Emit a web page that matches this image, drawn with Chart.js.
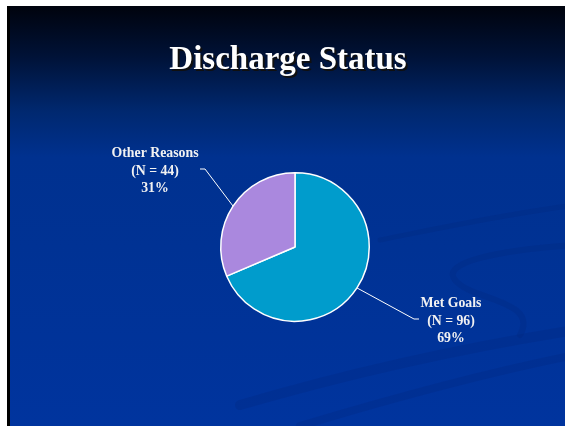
<!DOCTYPE html>
<html>
<head>
<meta charset="utf-8">
<script src="https://cdn.jsdelivr.net/npm/chart.js@4"></script>
<style>
  html, body { margin: 0; padding: 0; background: #fff; }
  canvas { display: block; }
</style>
</head>
<body>
<canvas id="myChart" width="565" height="426"></canvas>
<script>
// data
const categories = ['Met Goals', 'Other Reasons'];
const counts = [96, 44];
const percentLabels = ['69%', '31%'];
const sliceColors = ['#009ccc', '#aa88de'];
const chartTitle = 'Discharge Status';

const serif = '"Liberation Serif", "DejaVu Serif", serif';

// slide background: white margin, black edge, dark-to-blue gradient, faint swooshes
const slideBackground = {
    id: 'slideBackground',
    beforeDraw(chart) {
        const ctx = chart.ctx;
        const w = chart.width, h = chart.height;
        ctx.save();
        ctx.fillStyle = '#ffffff';
        ctx.fillRect(0, 0, w, h);
        ctx.fillStyle = '#000000';
        ctx.fillRect(7, 6, 3, h - 6);
        const g = ctx.createLinearGradient(0, 6, 0, h);
        g.addColorStop(0, '#00030d');
        g.addColorStop(0.12, '#001237');
        g.addColorStop(0.25, '#00286f');
        g.addColorStop(0.36, '#00318f');
        g.addColorStop(1, '#00349e');
        ctx.fillStyle = g;
        ctx.fillRect(10, 6, w - 10, h - 6);

        // faint darker swooshes in lower right
        ctx.beginPath();
        ctx.rect(10, 6, w - 10, h - 6);
        ctx.clip();
        ctx.strokeStyle = 'rgba(0, 35, 120, 0.22)';
        ctx.lineCap = 'round';
        ctx.lineWidth = 10;
        ctx.beginPath();
        ctx.moveTo(240, 405);
        ctx.bezierCurveTo(360, 370, 480, 345, 575, 330);
        ctx.stroke();
        ctx.lineWidth = 8;
        ctx.beginPath();
        ctx.moveTo(300, 426);
        ctx.bezierCurveTo(420, 390, 500, 370, 575, 355);
        ctx.stroke();
        ctx.lineWidth = 6;
        ctx.beginPath();
        ctx.moveTo(575, 245);
        ctx.bezierCurveTo(500, 250, 440, 262, 455, 280);
        ctx.bezierCurveTo(470, 300, 540, 300, 520, 335);
        ctx.stroke();
        ctx.lineWidth = 5;
        ctx.beginPath();
        ctx.moveTo(380, 240);
        ctx.bezierCurveTo(440, 228, 500, 215, 575, 205);
        ctx.stroke();
        ctx.restore();
    }
};

// title with drop shadow, plus leader lines and callout labels
const slideText = {
    id: 'slideText',
    afterDraw(chart, args, opts) {
        const ctx = chart.ctx;
        ctx.save();
        ctx.textAlign = 'center';
        ctx.textBaseline = 'middle';
        ctx.font = 'bold 33px ' + serif;
        ctx.fillStyle = '#101010';
        ctx.fillText(chartTitle, 290, 62);
        ctx.fillStyle = '#ffffff';
        ctx.fillText(chartTitle, 288, 60);

        const meta = chart.getDatasetMeta(0);
        meta.data.forEach((arc, i) => {
            const p = arc.getProps(['x', 'y', 'startAngle', 'endAngle', 'outerRadius'], true);
            const mid = (p.startAngle + p.endAngle) / 2;
            const ex = p.x + Math.cos(mid) * p.outerRadius;
            const ey = p.y + Math.sin(mid) * p.outerRadius;
            const pos = opts.callouts[i];
            ctx.strokeStyle = '#ffffff';
            ctx.lineWidth = 1;
            ctx.beginPath();
            ctx.moveTo(ex, ey);
            ctx.lineTo(pos.elbowX, pos.elbowY);
            ctx.lineTo(pos.endX, pos.elbowY);
            ctx.stroke();

            ctx.font = 'bold 13.8px ' + serif;
            ctx.fillStyle = '#f2f2f2';
            const lines = [categories[i], '(N = ' + counts[i] + ')', percentLabels[i]];
            lines.forEach((t, k) => {
                ctx.fillText(t, pos.x, pos.y + (k - 1) * 17.5);
            });
        });
        ctx.restore();
    }
};

const ctx = document.getElementById('myChart').getContext('2d');
new Chart(ctx, {
    type: 'pie',
    data: {
        labels: categories,
        datasets: [{
            data: counts,
            backgroundColor: sliceColors,
            borderColor: '#ffffff',
            borderWidth: 1.5
        }]
    },
    options: {
        responsive: false,
        animation: false,
        layout: {
            padding: { left: 220, right: 195, top: 172, bottom: 104 }
        },
        plugins: {
            legend: { display: false },
            tooltip: { enabled: false },
            slideText: {
                callouts: [
                    { x: 451, y: 321, elbowX: 414, elbowY: 319, endX: 419 },
                    { x: 155, y: 171, elbowX: 205, elbowY: 169, endX: 200 }
                ]
            }
        }
    },
    plugins: [slideBackground, slideText]
});
</script>
</body>
</html>
